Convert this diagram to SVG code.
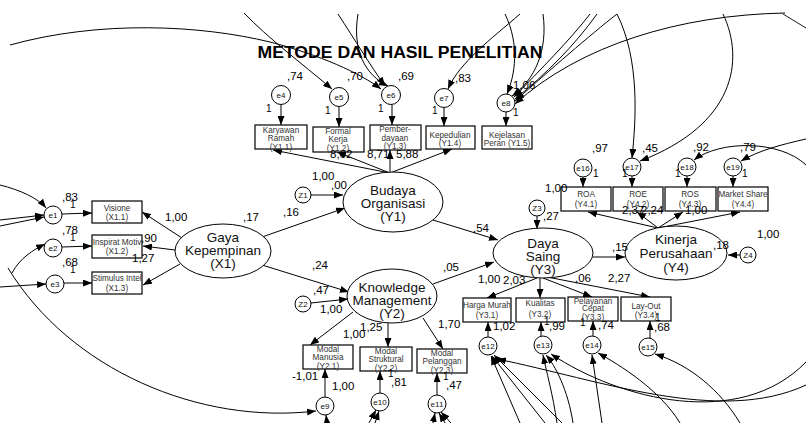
<svg xmlns="http://www.w3.org/2000/svg" width="806" height="423" viewBox="0 0 806 423">
<defs>
<marker id="ah" markerUnits="userSpaceOnUse" markerWidth="9" markerHeight="7" refX="9" refY="3.5" orient="auto"><path d="M0,0 L9,3.5 L0,7 z" fill="#000"/></marker>
<style>
.box{fill:#fff;stroke:#000;stroke-width:1.2}
.lat{fill:#fff;stroke:#000;stroke-width:1}
.err{fill:#fff;stroke:#000;stroke-width:1}
text{font-family:"Liberation Sans",Arial,sans-serif}
.bt{font-size:8.2px;text-anchor:middle;fill:#333}
.lt{font-size:13.5px;text-anchor:middle;fill:#111}
.et{font-size:8px;text-anchor:middle;fill:#111}
.n{font-size:11.5px;fill:#000}
.one{font-size:10px;fill:#000}
.c{fill:none;stroke:#000;stroke-width:0.9}
.a{fill:none;stroke:#000;stroke-width:1;marker-end:url(#ah)}
</style>
</defs>
<rect width="806" height="423" fill="#fff"/>
<text x="400" y="58" text-anchor="middle" font-weight="bold" font-size="16" textLength="285" lengthAdjust="spacingAndGlyphs" fill="#000">METODE DAN HASIL PENELITIAN</text>

<g id="connectors">
<path class="a" d="M244 13 C268 38 300 62 332 89"/>
<path class="a" d="M10 45 C100 20 200 25 270 42 C320 55 360 73 381 89"/>
<path class="a" d="M338 14 C355 40 370 65 385 86"/>
<path class="a" d="M358 14 C352 50 365 75 388 86"/>
<path class="a" d="M520 14 C490 40 460 62 448 89"/>
<path class="a" d="M505 14 C520 45 515 75 507 94"/>
<path class="a" d="M543 14 C548 50 535 80 512 96"/>
<path class="a" d="M590 14 C570 40 540 70 514 97"/>
<path class="a" d="M597 14 C575 45 545 75 515 99"/>
<path class="a" d="M617 14 C590 35 550 70 515 101"/>
<path class="a" d="M785 13 C680 15 580 45 515 104"/>
<path class="c" d="M783 14 L806 28"/>
<path class="a" d="M617 14 C640 60 636 120 632 158"/>
<path class="a" d="M723 14 C745 60 735 125 640 161"/>
<path class="a" d="M806 139 C780 145 760 150 741 161"/>
<path class="a" d="M806 165 C780 140 720 140 694 160"/>
<path class="a" d="M0 185 C20 190 38 198 46 208"/>
<path class="a" d="M0 220 L44 215"/>
<path class="a" d="M0 226 L44 217"/>
<path class="a" d="M12 273 C20 258 33 250 45 244"/>
<path class="a" d="M0 287 L46 284"/>
<path class="a" d="M8 268 C70 370 200 425 316 411"/>
<path class="a" d="M327 423 L326 415"/>
<path class="a" d="M369 423 L376 410"/>
<path class="a" d="M375 423 L379 411"/>
<path class="a" d="M433 423 L435 413"/>
<path class="a" d="M445 423 L439 413"/>
<path class="a" d="M451 423 L441 412"/>
<path class="a" d="M520 423 L491 356"/>
<path class="a" d="M545 423 L492 356"/>
<path class="a" d="M562 423 L494 355"/>
<path class="a" d="M806 385 C720 425 600 380 497 359"/>
<path class="a" d="M806 362 C740 430 620 400 551 354"/>
<path class="a" d="M557 423 C553 395 546 370 543 355"/>
<path class="a" d="M573 423 C568 390 555 365 546 355"/>
<path class="a" d="M602 423 L592 355"/>
<path class="a" d="M680 423 C660 390 620 365 598 353"/>
<path class="a" d="M740 423 C720 390 690 365 655 354"/>
<path class="a" d="M262 237 L345 208"/>
<path class="a" d="M262 265 L349 292"/>
<path class="a" d="M433 220 L498 240"/>
<path class="a" d="M433 284 L494 262"/>
<path class="a" d="M593 257 L625 257"/>
<path class="a" d="M311 195 L343 195"/>
<path class="a" d="M311 303 L348 299"/>
<path class="a" d="M537 216 L537 229"/>
<path class="a" d="M740 255 L728 255"/>
<path class="a" d="M182 238 L142 212"/>
<path class="a" d="M175 250 L143 246"/>
<path class="a" d="M180 264 L143 285"/>
<path class="a" d="M390 173 L273 150"/>
<path class="a" d="M390 173 L337 152"/>
<path class="a" d="M390 173 L390 150"/>
<path class="a" d="M390 173 L452 149"/>
<path class="a" d="M353 312 L310 345"/>
<path class="a" d="M388 323 L388 347"/>
<path class="a" d="M423 318 L443 349"/>
<path class="a" d="M537 278 L487 298"/>
<path class="a" d="M540 278 L540 298"/>
<path class="a" d="M543 278 L592 297"/>
<path class="a" d="M547 277 L650 297"/>
<path class="a" d="M658 228 L588 212"/>
<path class="a" d="M658 228 L637 212"/>
<path class="a" d="M658 228 L683 212"/>
<path class="a" d="M658 228 L740 212"/>
<path class="a" d="M62 214 L92 213"/>
<path class="a" d="M62 247 L92 246"/>
<path class="a" d="M64 283 L92 283"/>
<path class="a" d="M281 105 L281 125"/>
<path class="a" d="M339 107 L339 127"/>
<path class="a" d="M392 105 L392 125"/>
<path class="a" d="M444 108 L444 126"/>
<path class="a" d="M506 112 L506 126"/>
<path class="a" d="M325 397 L325 369"/>
<path class="a" d="M380 393 L380 371"/>
<path class="a" d="M437 395 L437 373"/>
<path class="a" d="M488 337 L488 322"/>
<path class="a" d="M541 336 L541 322"/>
<path class="a" d="M593 336 L593 321"/>
<path class="a" d="M650 338 L650 321"/>
<path class="a" d="M583 177 L583 187"/>
<path class="a" d="M632 176 L632 187"/>
<path class="a" d="M687 176 L687 187"/>
<path class="a" d="M733 176 L733 187"/>
</g>

<g id="X1"><ellipse class="lat" cx="223" cy="251" rx="48" ry="27"/><text class="lt" x="223" y="242">Gaya</text><text class="lt" x="223" y="255">Kepempinan</text><text class="lt" x="223" y="268">(X1)</text></g>
<g id="Y1"><ellipse class="lat" cx="393" cy="202" rx="50" ry="30"/><text class="lt" x="393" y="195">Budaya</text><text class="lt" x="393" y="208">Organisasi</text><text class="lt" x="393" y="221">(Y1)</text></g>
<g id="Y2"><ellipse class="lat" cx="392" cy="296" rx="45" ry="27"/><text class="lt" x="392" y="292">Knowledge</text><text class="lt" x="392" y="305">Management</text><text class="lt" x="392" y="318">(Y2)</text></g>
<g id="Y3"><ellipse class="lat" cx="543" cy="253" rx="50" ry="25"/><text class="lt" x="543" y="248">Daya</text><text class="lt" x="543" y="261">Saing</text><text class="lt" x="543" y="274">(Y3)</text></g>
<g id="Y4"><ellipse class="lat" cx="676" cy="253" rx="51" ry="27"/><text class="lt" x="676" y="244">Kinerja</text><text class="lt" x="676" y="258">Perusahaan</text><text class="lt" x="676" y="272">(Y4)</text></g>

<g id="Z1"><circle class="err" cx="303" cy="195" r="8"/><text class="et" x="303" y="198">Z1</text></g>
<g id="Z2"><circle class="err" cx="303" cy="304" r="8"/><text class="et" x="303" y="307">Z2</text></g>
<g id="Z3"><circle class="err" cx="537" cy="208" r="8"/><text class="et" x="537" y="211">Z3</text></g>
<g id="Z4"><circle class="err" cx="748" cy="255" r="8"/><text class="et" x="748" y="258">Z4</text></g>

<g id="X1.1"><rect class="box" x="92" y="201" width="50" height="22"/><text class="bt" x="117" y="211">Visione</text><text class="bt" x="117" y="220">(X1.1)</text></g>
<g id="X1.2"><rect class="box" x="92" y="235" width="50" height="23"/><text class="bt" x="117" y="245">Inspirat Motiv</text><text class="bt" x="117" y="254">(X1.2)</text></g>
<g id="X1.3"><rect class="box" x="92" y="272" width="50" height="22"/><text class="bt" x="117" y="281">Stimulus Intel</text><text class="bt" x="117" y="291">(X1.3)</text></g>
<g id="Y1.1"><rect class="box" x="255" y="125" width="52" height="24"/><text class="bt" x="281" y="133">Karyawan</text><text class="bt" x="281" y="141">Ramah</text><text class="bt" x="281" y="150">(Y1.1)</text></g>
<g id="Y1.2"><rect class="box" x="313" y="127" width="51" height="25"/><text class="bt" x="338" y="134">Formal</text><text class="bt" x="338" y="142">Kerja</text><text class="bt" x="338" y="151">(Y1.2)</text></g>
<g id="Y1.3"><rect class="box" x="370" y="125" width="51" height="25"/><text class="bt" x="395" y="132">Pember-</text><text class="bt" x="395" y="141">dayaan</text><text class="bt" x="395" y="149">(Y1.3)</text></g>
<g id="Y1.4"><rect class="box" x="426" y="126" width="49" height="23"/><text class="bt" x="450" y="138">Kepedulian</text><text class="bt" x="450" y="146">(Y1.4)</text></g>
<g id="Y1.5"><rect class="box" x="482" y="126" width="50" height="23"/><text class="bt" x="507" y="138">Kejelasan</text><text class="bt" x="507" y="146">Peran (Y1.5)</text></g>
<g id="Y2.1"><rect class="box" x="303" y="345" width="50" height="24"/><text class="bt" x="328" y="352">Modal</text><text class="bt" x="328" y="360">Manusia</text><text class="bt" x="328" y="369">(Y2.1)</text></g>
<g id="Y2.2"><rect class="box" x="360" y="347" width="52" height="24"/><text class="bt" x="386" y="354">Modal</text><text class="bt" x="386" y="362">Struktural</text><text class="bt" x="386" y="371">(Y2.2)</text></g>
<g id="Y2.3"><rect class="box" x="417" y="349" width="50" height="24"/><text class="bt" x="442" y="356">Modal</text><text class="bt" x="442" y="364">Pelanggan</text><text class="bt" x="442" y="373">(Y2.3)</text></g>
<g id="Y3.1"><rect class="box" x="463" y="298" width="48" height="24"/><text class="bt" x="487" y="308">Harga Murah</text><text class="bt" x="487" y="318">(Y3.1)</text></g>
<g id="Y3.2"><rect class="box" x="516" y="298" width="49" height="24"/><text class="bt" x="540" y="306">Kualitas</text><text class="bt" x="540" y="317">(Y3.2)</text></g>
<g id="Y3.3"><rect class="box" x="568" y="297" width="50" height="24"/><text class="bt" x="593" y="304">Pelayanan</text><text class="bt" x="593" y="311">Cepat</text><text class="bt" x="593" y="320">(Y3.3)</text></g>
<g id="Y3.4"><rect class="box" x="621" y="297" width="50" height="24"/><text class="bt" x="646" y="309">Lay-Out</text><text class="bt" x="646" y="318">(Y3.4)</text></g>
<g id="Y4.1"><rect class="box" x="561" y="187" width="50" height="24"/><text class="bt" x="586" y="197">ROA</text><text class="bt" x="586" y="207">(Y4.1)</text></g>
<g id="Y4.2"><rect class="box" x="613" y="187" width="50" height="24"/><text class="bt" x="638" y="197">ROE</text><text class="bt" x="638" y="207">(Y4.2)</text></g>
<g id="Y4.3"><rect class="box" x="665" y="187" width="51" height="24"/><text class="bt" x="690" y="197">ROS</text><text class="bt" x="690" y="207">(Y4.3)</text></g>
<g id="Y4.4"><rect class="box" x="718" y="187" width="50" height="24"/><text class="bt" x="743" y="197">Market Share</text><text class="bt" x="743" y="207">(Y4.4)</text></g>

<g id="e1"><circle class="err" cx="53" cy="215" r="9"/><text class="et" x="53" y="218">e1</text></g>
<g id="e2"><circle class="err" cx="53" cy="248" r="9"/><text class="et" x="53" y="251">e2</text></g>
<g id="e3"><circle class="err" cx="55" cy="284" r="9"/><text class="et" x="55" y="287">e3</text></g>
<g id="e4"><circle class="err" cx="281" cy="95" r="9.5"/><text class="et" x="281" y="98">e4</text></g>
<g id="e5"><circle class="err" cx="339" cy="97" r="9.5"/><text class="et" x="339" y="100">e5</text></g>
<g id="e6"><circle class="err" cx="391" cy="95" r="9.5"/><text class="et" x="391" y="98">e6</text></g>
<g id="e7"><circle class="err" cx="444" cy="98" r="9.5"/><text class="et" x="444" y="101">e7</text></g>
<g id="e8"><circle class="err" cx="506" cy="103" r="9"/><text class="et" x="506" y="106">e8</text></g>
<g id="e9"><circle class="err" cx="325" cy="406" r="9"/><text class="et" x="325" y="409">e9</text></g>
<g id="e10"><circle class="err" cx="380" cy="402" r="9"/><text class="et" x="380" y="405">e10</text></g>
<g id="e11"><circle class="err" cx="437" cy="404" r="9"/><text class="et" x="437" y="407">e11</text></g>
<g id="e12"><circle class="err" cx="488" cy="346" r="9"/><text class="et" x="488" y="349">e12</text></g>
<g id="e13"><circle class="err" cx="543" cy="345" r="9"/><text class="et" x="543" y="348">e13</text></g>
<g id="e14"><circle class="err" cx="592" cy="345" r="9"/><text class="et" x="592" y="348">e14</text></g>
<g id="e15"><circle class="err" cx="648" cy="347" r="9"/><text class="et" x="648" y="350">e15</text></g>
<g id="e16"><circle class="err" cx="583" cy="168" r="9"/><text class="et" x="583" y="171">e16</text></g>
<g id="e17"><circle class="err" cx="632" cy="167" r="9"/><text class="et" x="632" y="170">e17</text></g>
<g id="e18"><circle class="err" cx="687" cy="167" r="9"/><text class="et" x="687" y="170">e18</text></g>
<g id="e19"><circle class="err" cx="733" cy="167" r="9"/><text class="et" x="733" y="170">e19</text></g>

<g id="labels">
<text class="n" x="62" y="201">,83</text><text class="one" x="70" y="208">1</text>
<text class="n" x="62" y="234">,78</text><text class="one" x="70" y="241">1</text>
<text class="n" x="62" y="266">,68</text><text class="one" x="70" y="273">1</text>
<text class="n" x="165" y="221">1,00</text>
<text class="n" x="141" y="242">,90</text>
<text class="n" x="132" y="262">1,27</text>
<text class="n" x="243" y="221">,17</text>
<text class="n" x="283" y="216">,16</text>
<text class="n" x="312" y="269">,24</text>
<text class="n" x="312" y="180">1,00</text>
<text class="n" x="331" y="189">,00</text>
<text class="n" x="287" y="80">,74</text><text class="one" x="266" y="112">1</text>
<text class="n" x="347" y="80">,70</text><text class="one" x="325" y="114">1</text>
<text class="n" x="398" y="80">,69</text><text class="one" x="378" y="112">1</text>
<text class="n" x="455" y="82">,83</text><text class="one" x="432" y="114">1</text>
<text class="n" x="513" y="89">1,06</text><text class="one" x="513" y="116">1</text>
<text class="n" x="330" y="158">8,62</text>
<text class="n" x="367" y="158">8,71</text>
<text class="n" x="396" y="158">5,88</text>
<text class="n" x="313" y="294">,47</text>
<text class="n" x="320" y="313">1,00</text>
<text class="n" x="343" y="338">1,00</text>
<text class="n" x="360" y="331">1,25</text>
<text class="n" x="438" y="328">1,70</text>
<text class="n" x="292" y="380">-1,01</text>
<text class="n" x="332" y="390">1,00</text>
<text class="n" x="391" y="386">,81</text><text class="one" x="388" y="377">1</text>
<text class="n" x="446" y="389">,47</text><text class="one" x="443" y="380">1</text>
<text class="n" x="473" y="232">,54</text>
<text class="n" x="443" y="271">,05</text>
<text class="n" x="543" y="220">,27</text>
<text class="n" x="478" y="283">1,00</text>
<text class="n" x="503" y="284">2,03</text>
<text class="n" x="575" y="282">,06</text>
<text class="n" x="608" y="282">2,27</text>
<text class="n" x="493" y="330">1,02</text>
<text class="n" x="549" y="330">,99</text><text class="one" x="544" y="325">1</text>
<text class="n" x="598" y="329">,74</text><text class="one" x="580" y="326">1</text>
<text class="n" x="654" y="331">,68</text><text class="one" x="655" y="321">1</text>
<text class="n" x="612" y="251">,15</text>
<text class="n" x="713" y="249">,18</text>
<text class="n" x="757" y="238">1,00</text>
<text class="n" x="545" y="192">1,00</text>
<text class="n" x="622" y="214">2,37</text>
<text class="n" x="641" y="214">2,24</text>
<text class="n" x="685" y="214">1,00</text>
<text class="n" x="592" y="152">,97</text><text class="one" x="593" y="177">1</text>
<text class="n" x="642" y="152">,45</text><text class="one" x="622" y="177">1</text>
<text class="n" x="693" y="151">,92</text><text class="one" x="675" y="177">1</text>
<text class="n" x="740" y="151">,79</text><text class="one" x="742" y="177">1</text>
</g>
</svg>
